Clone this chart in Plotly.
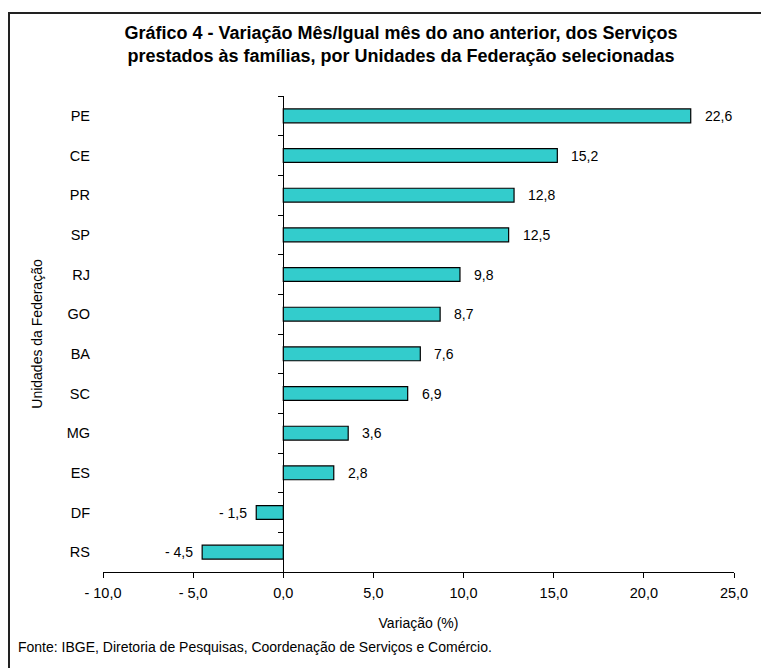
import plotly.graph_objects as go

states = ["PE", "CE", "PR", "SP", "RJ", "GO", "BA", "SC", "MG", "ES", "DF", "RS"]
values = [22.6, 15.2, 12.8, 12.5, 9.8, 8.7, 7.6, 6.9, 3.6, 2.8, -1.5, -4.5]
x_tickvals = [-10, -5, 0, 5, 10, 15, 20, 25]
x_ticktext = ["- 10,0", "- 5,0", "0,0", "5,0", "10,0", "15,0", "20,0", "25,0"]

title_text = ("Gráfico 4 - Variação Mês/Igual mês do ano anterior, dos Serviços<br>"
              "prestados às famílias, por Unidades da Federação selecionadas")
source_text = "Fonte: IBGE, Diretoria de Pesquisas, Coordenação de Serviços e Comércio."

FONT = "Liberation Sans, Arial, sans-serif"
OFF = 8  # page body margin offset
W, H = 769 - OFF, 668 - OFF
L, T = 103 - OFF, 96 - OFF
plot_w, plot_h = 631, 476
R = W - L - plot_w
B = H - T - plot_h


def fmt(v):
    s = f"{abs(v):.1f}".replace(".", ",")
    return ("- " + s) if v < 0 else s


def px_x(px):  # page pixel -> paper fraction
    return (px - OFF - L) / plot_w


def px_y(py):
    return (T + plot_h - (py - OFF)) / plot_h


fig = go.Figure()
fig.add_trace(go.Bar(
    x=values, y=states, orientation="h",
    marker=dict(color="#33CCCC", line=dict(color="#000000", width=1.2)),
    width=0.35, hoverinfo="x+y", showlegend=False,
))
# invisible trace to carry the boundary ticks at x = 0
fig.add_trace(go.Scatter(
    x=values, y=states, yaxis="y2", mode="markers",
    marker=dict(opacity=0), hoverinfo="skip", showlegend=False,
))

for s, v in zip(states, values):
    fig.add_annotation(
        x=v, y=s, text=fmt(v), showarrow=False,
        xanchor="left" if v >= 0 else "right",
        xshift=12 if v >= 0 else -7,
        font=dict(family=FONT, size=14, color="#000"),
    )

fig.add_annotation(
    xref="paper", yref="paper", x=px_x(16), y=px_y(647),
    xanchor="left", yanchor="middle", showarrow=False, text=source_text,
    font=dict(family=FONT, size=14, color="#000"),
)

# outer frame
fig.add_shape(type="rect", xref="paper", yref="paper",
              x0=px_x(9), x1=px_x(800), y0=px_y(720), y1=px_y(13),
              line=dict(color="#222", width=2), fillcolor="rgba(0,0,0,0)", layer="above")

fig.update_layout(
    width=W, height=H,
    margin=dict(l=L, r=R, t=T, b=B),
    paper_bgcolor="white", plot_bgcolor="white",
    font=dict(family=FONT, size=13.5, color="#000"),
    title=dict(text=title_text, x=(401 - OFF) / W, xanchor="center", xref="container",
               y=1 - (39 - OFF) / H, yanchor="top",
               font=dict(family=FONT, size=18, color="#000", weight="bold")),
    bargap=0.65,
    xaxis=dict(
        range=[-10, 25], tickvals=x_tickvals, ticktext=x_ticktext,
        showline=True, linecolor="#000", linewidth=1,
        ticks="outside", ticklen=5, tickcolor="#000",
        showgrid=False, zeroline=True, zerolinecolor="#000", zerolinewidth=1,
        ticklabelstandoff=3,
        tickfont=dict(family=FONT, size=14.5),
        title=dict(text="Variação (%)", standoff=17, font=dict(family=FONT, size=14)),
    ),
    yaxis=dict(
        type="category", categoryorder="array", categoryarray=states,
        range=[len(states) - 0.5, -0.5],
        showline=False, showgrid=False, zeroline=False, ticks="",
        ticklabelstandoff=12,
        tickfont=dict(family=FONT, size=14.5),
        title=dict(text="Unidades da Federação", standoff=20, font=dict(family=FONT, size=14)),
    ),
    yaxis2=dict(
        type="category", categoryorder="array", categoryarray=states,
        range=[len(states) - 0.5, -0.5],
        overlaying="y", anchor="free", position=10 / 35, side="left",
        showline=False, showgrid=False, zeroline=False, showticklabels=False,
        ticks="outside", tickson="boundaries", ticklen=5, tickcolor="#000",
    ),
)

fig.write_html("out.html")
